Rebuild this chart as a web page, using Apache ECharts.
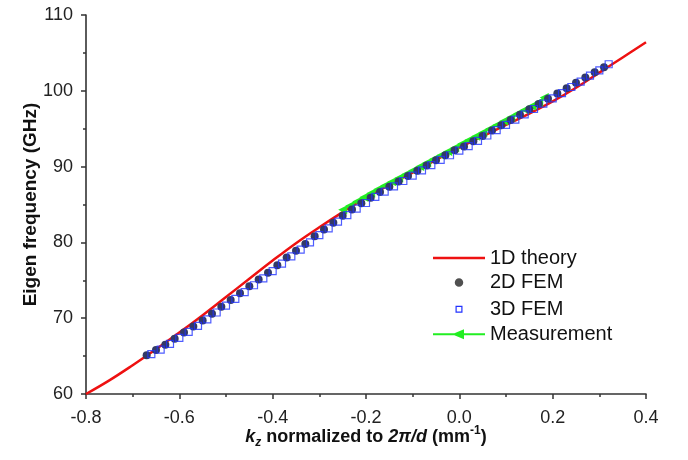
<!DOCTYPE html>
<html><head><meta charset="utf-8">
<script src="https://cdn.jsdelivr.net/npm/echarts@6/dist/echarts.min.js"></script>
<style>html,body{margin:0;padding:0;background:#fff}#c{width:688px;height:460px}</style>
</head><body><div id="c"></div>
<script>
// 1D theory curve
const theoryK = [-0.80,-0.75,-0.70,-0.65,-0.60,-0.55,-0.50,-0.45,-0.40,-0.35,-0.30,-0.25,-0.20,-0.15,-0.10,-0.05,0.00,0.05,0.10,0.15,0.20,0.25,0.30,0.35,0.40];
const theoryF = [60.0,61.8,63.8,65.9,68.1,70.4,72.8,75.2,77.6,79.9,82.0,84.0,85.9,87.6,89.2,90.9,92.5,94.0,95.5,97.0,98.6,100.4,102.4,104.4,106.4];
// 2D FEM
const fem2K = [-0.67,-0.65,-0.63,-0.61,-0.59,-0.57,-0.55,-0.53,-0.51,-0.49,-0.47,-0.45,-0.43,-0.41,-0.39,-0.37,-0.35,-0.33,-0.31,-0.29,-0.27,-0.25,-0.23,-0.21,-0.19,-0.17,-0.15,-0.13,-0.11,-0.09,-0.07,-0.05,-0.03,-0.01,0.01,0.03,0.05,0.07,0.09,0.11,0.13,0.15,0.17,0.19,0.21,0.23,0.25,0.27,0.29,0.31];
const fem2F = [65.1,65.8,66.5,67.3,68.1,68.9,69.7,70.6,71.5,72.4,73.3,74.2,75.1,76.0,77.0,78.0,78.9,79.8,80.8,81.7,82.6,83.5,84.35,85.15,85.9,86.65,87.35,88.05,88.75,89.45,90.15,90.85,91.5,92.15,92.65,93.35,94.05,94.75,95.45,96.15,96.85,97.55,98.25,98.95,99.65,100.35,101.05,101.75,102.45,103.1];
// 3D FEM
const fem3K = [-0.66,-0.64,-0.62,-0.60,-0.58,-0.56,-0.54,-0.52,-0.50,-0.48,-0.46,-0.44,-0.42,-0.40,-0.38,-0.36,-0.34,-0.32,-0.30,-0.28,-0.26,-0.24,-0.22,-0.20,-0.18,-0.16,-0.14,-0.12,-0.10,-0.08,-0.06,-0.04,-0.02,0.00,0.02,0.04,0.06,0.08,0.10,0.12,0.14,0.16,0.18,0.20,0.22,0.24,0.26,0.28,0.30,0.32];
const fem3F = [65.25,65.85,66.6,67.4,68.2,69.0,69.85,70.75,71.65,72.55,73.45,74.35,75.25,76.2,77.2,78.15,79.05,80.0,80.95,81.85,82.75,83.6,84.45,85.2,86.0,86.7,87.4,88.1,88.8,89.5,90.2,90.9,91.5,92.1,92.7,93.4,94.1,94.8,95.5,96.2,96.9,97.6,98.3,99.0,99.7,100.5,101.2,102.0,102.7,103.5];
// Measurement
const measK = [-0.250,-0.235,-0.220,-0.205,-0.190,-0.175,-0.160,-0.145,-0.130,-0.115,-0.100,-0.085,-0.070,-0.055,-0.040,-0.025,-0.010,0.005,0.020,0.035,0.050,0.065,0.080,0.095,0.110,0.125,0.140,0.155,0.170,0.182];
const measF = [84.3,84.85,85.4,85.95,86.5,87.0,87.5,88.0,88.5,89.0,89.5,90.0,90.5,91.0,91.5,92.0,92.5,93.0,93.5,94.0,94.5,95.0,95.5,96.0,96.5,97.0,97.5,98.0,98.5,99.1];
const seriesNames = ['1D theory','2D FEM','3D FEM','Measurement'];
const yTicks = [60,70,80,90,100,110];

const zip = (a,b) => a.map((v,i)=>[v,b[i]]);
const font = 'Liberation Sans, Arial, sans-serif';
const RED = '#ee1111', GREEN = '#22ee22', BLUE = '#2233ff';
const legendText = {fontFamily:font,fontSize:20,color:'#111'};
// invisible anchor specks at both ends keep each icon 52 px wide
const ANCH = 'M0,0L0.01,0L0,0.01Z M52,0L51.99,0L52,0.01Z ';
function leg(name, top, icon, h, color){
  return {orient:'vertical', left:433, top:top, padding:0, itemWidth:52, itemHeight:h,
    textStyle:legendText,
    data:[{name:name, icon:icon, itemStyle:{color:color, borderWidth:0, borderColor:'transparent', opacity:1}}]};
}
const chart = echarts.init(document.getElementById('c'));
chart.setOption({
  animation:false,
  backgroundColor:'#fff',
  grid:{left:86,right:42,top:15,bottom:66},
  legend:[
    leg(seriesNames[0], 248, 'rect', 2.5, RED),
    leg(seriesNames[1], 272.5, 'path://' + ANCH + 'M30.25,4.25A4.25,4.25 0 1 1 21.75,4.25A4.25,4.25 0 1 1 30.25,4.25Z', 8.5, '#505050'),
    leg(seriesNames[2], 299.3, 'path://' + ANCH + 'M22.5,0L29.5,0L29.5,7L22.5,7Z M23.7,1.2L23.7,5.8L28.3,5.8L28.3,1.2Z', 7, BLUE),
    leg(seriesNames[3], 324.3, 'path://M0,4L52,4L52,6L0,6Z M19,5L31,0L31,10Z', 10, GREEN)
  ],
  xAxis:{
    type:'value', min:-0.8, max:0.4, interval:0.2,
    axisLine:{onZero:false,lineStyle:{color:'#333',width:1.6}},
    axisTick:{inside:false,length:5,lineStyle:{color:'#333',width:1.5}},
    minorTick:{show:true,splitNumber:2,length:3,lineStyle:{color:'#333',width:1.5}},
    splitLine:{show:false},
    axisLabel:{fontFamily:font,fontSize:18,color:'#222',margin:15,formatter:v=>v.toFixed(1)},
    name:'{i|k}{sub|z}{b| normalized to }{i|2π/d}{b| (mm}{sup|-1}{b|)}',
    nameLocation:'middle', nameGap:31, nameMoveOverlap:false,
    nameTextStyle:{rich:{
      i:{fontFamily:font,fontSize:18,fontWeight:'bold',fontStyle:'italic',color:'#111',lineHeight:24,verticalAlign:'middle'},
      b:{fontFamily:font,fontSize:18,fontWeight:'bold',color:'#111',lineHeight:24,verticalAlign:'middle'},
      sub:{fontFamily:font,fontSize:12,fontWeight:'bold',fontStyle:'italic',color:'#111',lineHeight:24,verticalAlign:'bottom'},
      sup:{fontFamily:font,fontSize:12,fontWeight:'bold',color:'#111',lineHeight:24,verticalAlign:'top'}
    }}
  },
  yAxis:{
    type:'value', min:yTicks[0], max:yTicks[yTicks.length-1], interval:10,
    axisLine:{show:true,onZero:false,lineStyle:{color:'#333',width:1.6}},
    axisTick:{show:true,inside:false,length:5,lineStyle:{color:'#333',width:1.5}},
    minorTick:{show:true,splitNumber:2,length:3,lineStyle:{color:'#333',width:1.5}},
    splitLine:{show:false},
    axisLabel:{fontFamily:font,fontSize:18,color:'#222',margin:13},
    name:'Eigen frequency (GHz)', nameLocation:'middle', nameGap:46, nameMoveOverlap:false,
    nameTextStyle:{fontFamily:font,fontSize:19,fontWeight:'bold',color:'#111'}
  },
  series:[
    {name:seriesNames[0],type:'line',data:zip(theoryK,theoryF),smooth:0.4,showSymbol:false,symbol:'none',
     lineStyle:{color:RED,width:2.5},itemStyle:{color:RED},z:1},
    {name:seriesNames[3],type:'line',data:zip(measK,measF),symbol:'triangle',symbolSize:9,symbolRotate:90,
     lineStyle:{color:GREEN,width:2},itemStyle:{color:GREEN},z:2},
    {name:seriesNames[1],type:'scatter',data:zip(fem2K,fem2F),symbol:'circle',symbolSize:8,
     itemStyle:{color:'#333a66',opacity:1},z:3},
    {name:seriesNames[2],type:'scatter',data:zip(fem3K,fem3F),symbol:'rect',symbolSize:7,
     itemStyle:{color:'rgba(0,0,0,0)',borderColor:BLUE,borderWidth:1.2},z:4}
  ]
});
</script></body></html>
